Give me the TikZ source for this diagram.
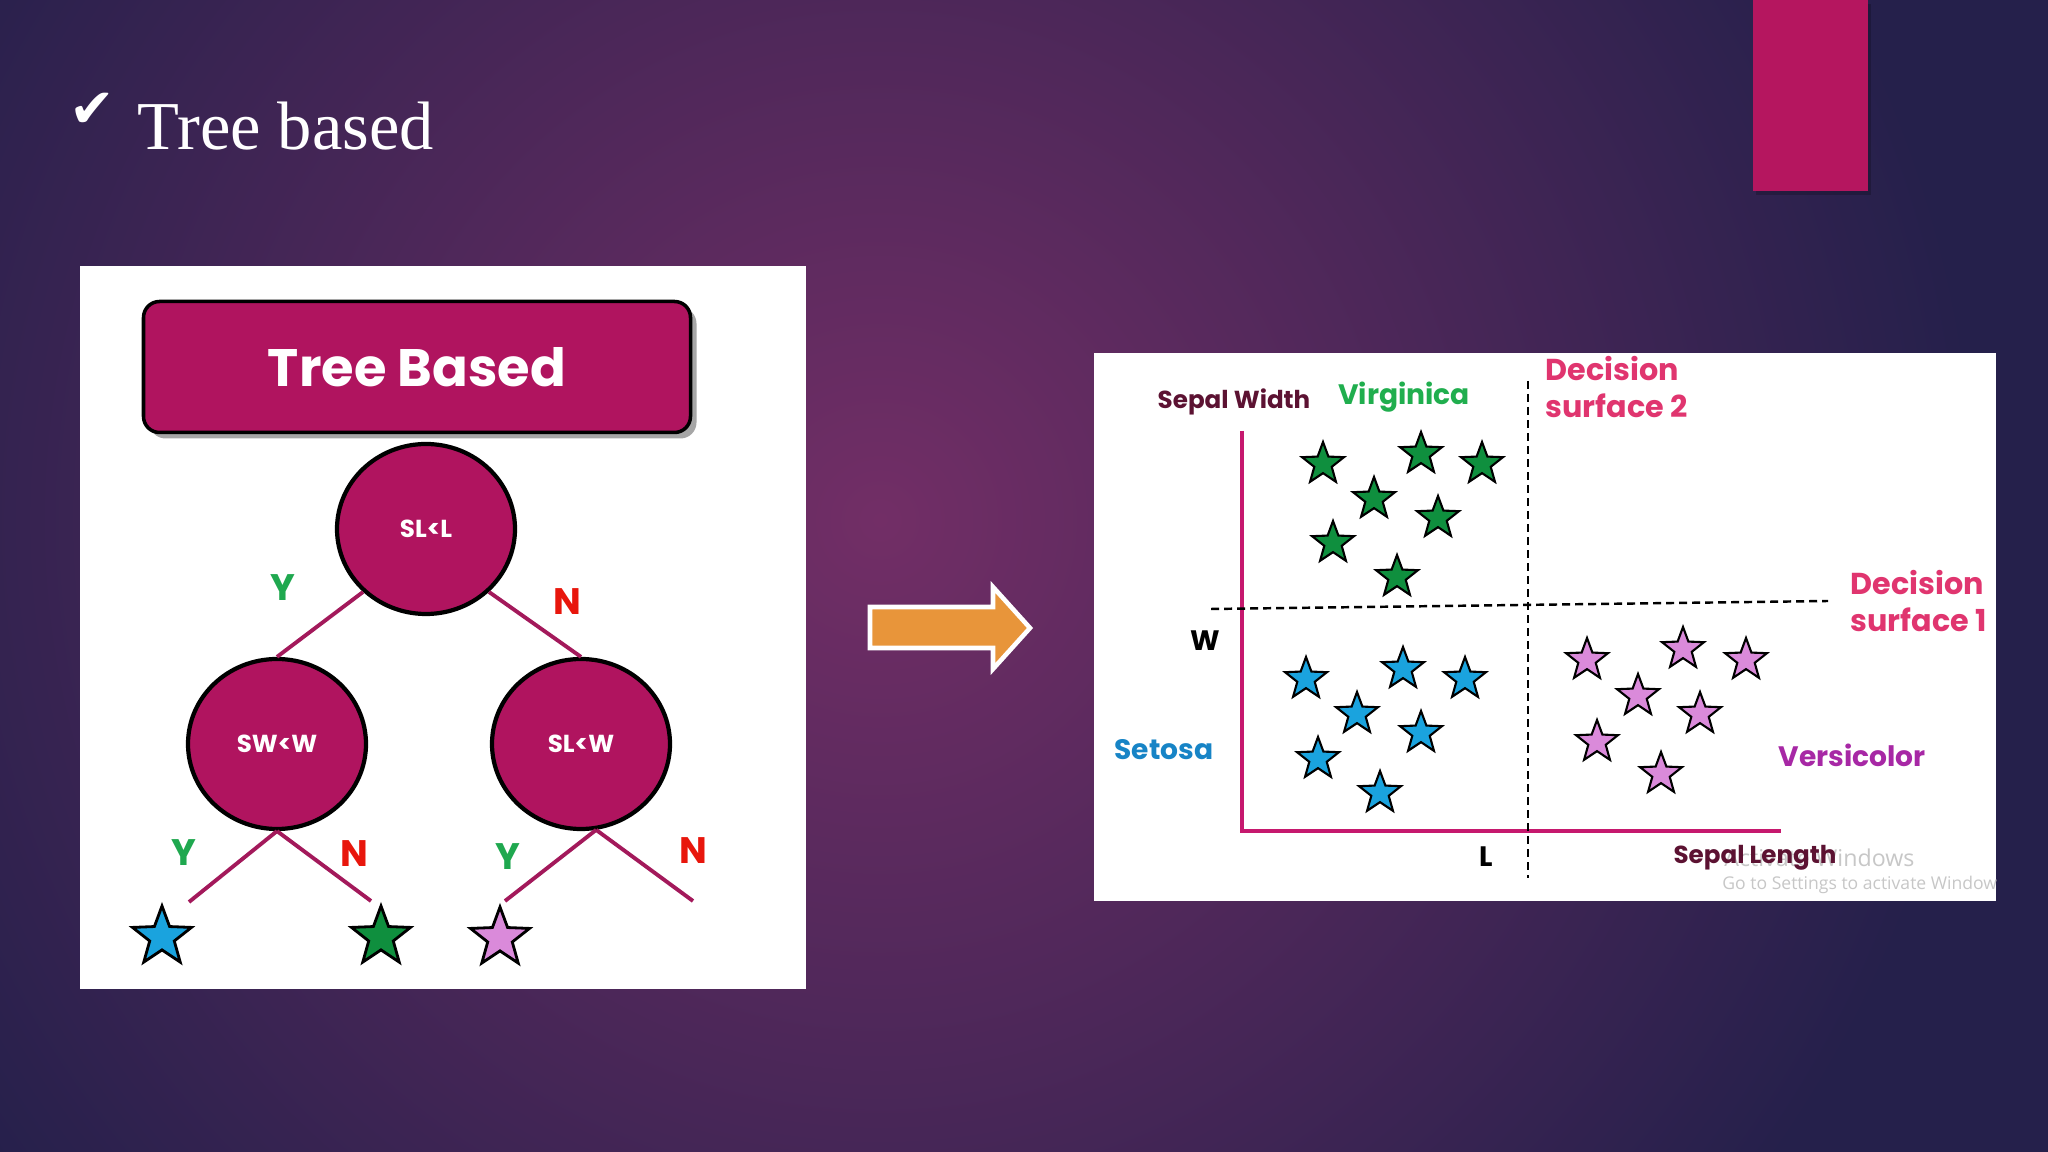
\documentclass[tikz,border=0pt]{standalone}
\usepackage{fontspec}
\setmainfont{Liberation Serif}
\newfontfamily\gothic{Poppins}
\newfontfamily\symfont{DejaVu Sans}
\newfontfamily\winfont{Open Sans}
\usetikzlibrary{shapes.geometric,shadows,positioning}

\definecolor{bgdark}{HTML}{25204B}
\definecolor{bglight}{HTML}{722E66}
\definecolor{barrose}{HTML}{B5165F}
\definecolor{treemag}{HTML}{B0145F}
\definecolor{edgemag}{HTML}{A3195B}
\definecolor{yesgreen}{HTML}{1FA84F}
\definecolor{nored}{HTML}{E8160C}
\definecolor{starblue}{HTML}{1AA3DE}
\definecolor{stargreen}{HTML}{0F8F3E}
\definecolor{starviolet}{HTML}{DA8ADA}
\definecolor{arroworange}{HTML}{E8953A}
\definecolor{widthmaroon}{HTML}{5C1232}
\definecolor{virgreen}{HTML}{20AE4E}
\definecolor{surfpink}{HTML}{E0356F}
\definecolor{setblue}{HTML}{1784C6}
\definecolor{versviolet}{HTML}{A728A5}
\definecolor{axismag}{HTML}{C6186E}

\begin{document}
\begin{tikzpicture}[x=0.1mm, y=-0.1mm,
  split/.style={ellipse, draw=black, line width=1.2pt, fill=treemag, text=white,
    font=\gothic\bfseries\fontsize{7}{8}\selectfont, minimum width=17.8mm, minimum height=17mm, inner sep=0pt},
  branch/.style={edgemag, line width=1.1pt},
  yes/.style={text=yesgreen, font=\gothic\bfseries\fontsize{10.5}{12}\selectfont},
  no/.style={text=nored, font=\gothic\bfseries\fontsize{10.5}{12}\selectfont},
  leaf/.style={star, star points=5, star point ratio=2.4, draw=black, line width=0.8pt,
    minimum size=6.2mm, inner sep=0pt},
  dot/.style={leaf, minimum size=4.4mm, line width=0.6pt},
  cut/.style={black, line width=0.7pt, dash pattern=on 2.3pt off 1.4pt},
  lbl/.style={font=\gothic\bfseries\fontsize{8}{9.6}\selectfont}]
  \useasboundingbox (0,0) rectangle (2048,1152);
  % slide background
  \begin{scope}
    \clip (0,0) rectangle (2048,1152);
    \fill[bgdark] (0,0) rectangle (2048,1152);
    \shade[inner color=bglight, outer color=bgdark] (880,520) circle (1100);
  \end{scope}
  \fill[barrose, drop shadow={shadow xshift=0.3mm, shadow yshift=-0.4mm, opacity=0.2, fill=black}] (1753,0) rectangle (1868,191);
  \node[text=white, font=\symfont\fontsize{15.5}{18}\selectfont] (tick) at (92,110) {✔};
  \node[text=white, font=\fontsize{19.5}{23}\selectfont, anchor=base west, inner sep=0pt] (title) at (137,150) {Tree based};

  % left panel: the tree
  \fill[white] (80,266) rectangle (806,989);
  \node[draw=black, line width=1pt, fill=treemag, rounded corners=1.6mm, minimum width=54.7mm, minimum height=13.1mm,
    drop shadow={shadow xshift=0.6mm, shadow yshift=-0.6mm, opacity=0.35, fill=black},
    text=white, font=\gothic\bfseries\fontsize{15}{18}\selectfont] (banner) at (417,367) {Tree Based};
  \node[split] (root) at (426,529) {SL<L};
  \node[split] (sw) at (277,744) {SW<W};
  \node[split] (slw) at (581,744) {SL<W};
  \draw[branch] (root.-135) -- (sw.north);
  \draw[branch] (root.-45) -- (slw.north);
  \coordinate (e1) at (189,902);
  \coordinate (e2) at (371,901);
  \coordinate (e3) at (505,901);
  \coordinate (e4) at (693,901);
  \draw[branch] (sw.south) -- (e1);
  \draw[branch] (sw.south) -- (e2);
  \draw[branch] (slw.-80) -- (e3);
  \draw[branch] (slw.-80) -- (e4);
  \node[yes] (y1) at (283,588) {Y};
  \node[no] (n1) at (567,602) {N};
  \node[yes] (y2) at (184,853) {Y};
  \node[no] (n2) at (354,854) {N};
  \node[yes] (y3) at (508,857) {Y};
  \node[no] (n3) at (693,851) {N};
  \node[leaf, fill=starblue] (s1) at (162,937) {};
  \node[leaf, fill=stargreen] (s2) at (381,937) {};
  \node[leaf, fill=starviolet] (s3) at (500,938) {};

  % arrow
  \draw[white, line width=1.3pt, fill=arroworange] (870,607) -- (993,607) -- (993,587) -- (1030,628)
    -- (993,669) -- (993,648) -- (870,648) -- cycle;

  % right panel: decision surfaces
  \fill[white] (1094,353) rectangle (1996,901);
  \begin{scope}
    \clip (1094,353) rectangle (1996,901);
    \node[text=black!22, font=\winfont\fontsize{6.6}{8}\selectfont, anchor=west] (act) at (1712,858) {Activate Windows};
    \node[text=black!22, font=\winfont\fontsize{5}{6}\selectfont, anchor=west] (goto) at (1710,885) {Go to Settings to activate Windows};
  \end{scope}
  \draw[axismag, line width=0.9pt] (1242,431) -- (1242,831) -- (1781,831);
  \draw[cut] (1528,381) -- (1528,878);
  \draw[cut] (1211,609) -- (1828,601);
  \foreach \p [count=\i] in {(1323,464),(1421,454),(1482,464),(1374,499),(1438,518),(1333,543),(1397,577)}
    \node[dot, fill=stargreen] (g\i) at \p {};
  \foreach \p [count=\i] in {(1306,679),(1403,669),(1465,679),(1357,714),(1421,733),(1318,759),(1380,793)}
    \node[dot, fill=starblue] (b\i) at \p {};
  \foreach \p [count=\i] in {(1587,660),(1683,649),(1746,660),(1638,696),(1700,714),(1597,742),(1661,774)}
    \node[dot, fill=starviolet] (v\i) at \p {};
  \node[lbl, text=widthmaroon, font=\gothic\bfseries\fontsize{7}{9}\selectfont] (sepw) at (1234,402) {Sepal Width};
  \node[lbl, text=virgreen] (virg) at (1404,397) {Virginica};
  \node[lbl, text=surfpink, align=left, anchor=west, font=\gothic\bfseries\fontsize{8.6}{10.6}\selectfont] (ds2) at (1533,387) {Decision\\surface 2};
  \node[lbl, text=surfpink, align=left, anchor=west, font=\gothic\bfseries\fontsize{8.6}{10.6}\selectfont] (ds1) at (1838,601) {Decision\\surface 1};
  \node[lbl, text=black] (wmark) at (1205,641) {W};
  \node[lbl, text=black] (lmark) at (1486,857) {L};
  \node[lbl, text=setblue] (seto) at (1164,750) {Setosa};
  \node[lbl, text=versviolet] (vers) at (1852,755) {Versicolor};
  \node[lbl, text=widthmaroon, font=\gothic\bfseries\fontsize{7}{9}\selectfont] (sepl) at (1755,858) {Sepal Length};
\end{tikzpicture}
\end{document}
